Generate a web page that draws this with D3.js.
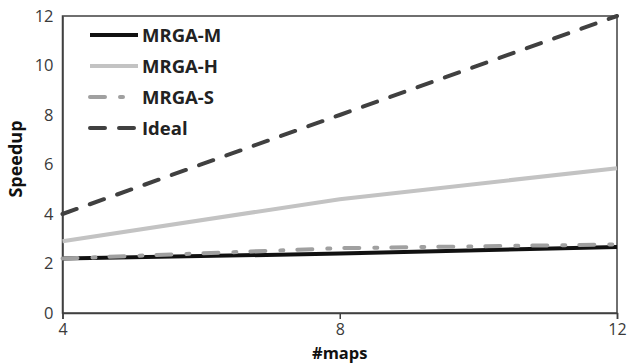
<!DOCTYPE html>
<html lang="en">
<head>
<meta charset="UTF-8" />
<script src="https://cdn.jsdelivr.net/npm/d3@7"></script>
<style>
  body { margin: 0; background: #fff; }
  text { font-family: "Open Sans", sans-serif; }
</style>
</head>
<body>
<div id="chart"></div>
<script>
// data
const maps = [4, 8, 12];
const mrgaM = [2.2, 2.4, 2.67];
const mrgaH = [2.9, 4.6, 5.85];
const mrgaS = [2.2, 2.62, 2.77];
const ideal = [4, 8, 12];
const xTicks = [4, 8, 12];
const yTicks = [0, 2, 4, 6, 8, 10, 12];

const series = [
  { name: "MRGA-M", values: mrgaM, color: "#111", dash: null, legLen: 48 },
  { name: "MRGA-H", values: mrgaH, color: "#c3c3c3", dash: null, legLen: 48 },
  { name: "MRGA-S", values: mrgaS, color: "#a0a0a0", dash: "15,15,3,14", legLen: 34 },
  { name: "Ideal", values: ideal, color: "#404040", dash: "15,14", legLen: 48 }
];

const W = 627, H = 363;
const m = { left: 62.5, right: 10, top: 16, bottom: 50 };

const svg = d3.select("#chart").append("svg")
  .attr("width", W).attr("height", H);

const x = d3.scaleLinear().domain([4, 12]).range([m.left, W - m.right]);
const y = d3.scaleLinear().domain([0, 12]).range([H - m.bottom, m.top]);

// frame
svg.append("rect")
  .attr("x", x(4)).attr("y", y(12))
  .attr("width", x(12) - x(4)).attr("height", y(0) - y(12))
  .attr("fill", "none").attr("stroke", "#404040").attr("stroke-width", 1.5);

// x axis
const xAxis = svg.append("g")
  .attr("transform", `translate(0,${y(0)})`)
  .call(d3.axisBottom(x).tickValues(xTicks).tickSize(6).tickPadding(5).tickFormat(d3.format("d")));
xAxis.select(".domain").attr("stroke", "#404040").attr("stroke-width", 1.5);
xAxis.selectAll("line").attr("stroke", "#404040").attr("stroke-width", 1.5);
xAxis.selectAll("text").attr("font-size", 16).attr("fill", "#3a3a3a").attr("font-family", "Open Sans");

// y axis
const yAxis = svg.append("g")
  .attr("transform", `translate(${x(4)},0)`)
  .call(d3.axisLeft(y).tickValues(yTicks).tickSize(0).tickPadding(9));
yAxis.select(".domain").attr("stroke", "#404040").attr("stroke-width", 1.5);
yAxis.selectAll("text").attr("font-size", 16.5).attr("fill", "#3a3a3a").attr("font-family", "Open Sans");

// lines
const line = d3.line()
  .x((d, i) => x(maps[i]))
  .y(d => y(d));

series.forEach(s => {
  svg.append("path")
    .datum(s.values)
    .attr("d", line)
    .attr("fill", "none")
    .attr("stroke", s.color)
    .attr("stroke-width", 4)
    .attr("stroke-dasharray", s.dash)
    .attr("stroke-linecap", s.dash ? "round" : "butt");
});

// legend
const leg = svg.append("g").attr("transform", "translate(90,35)");
series.forEach((s, i) => {
  const g = leg.append("g").attr("transform", `translate(0,${i * 31})`);
  g.append("line")
    .attr("x1", 0).attr("x2", s.legLen).attr("y1", 0).attr("y2", 0)
    .attr("stroke", s.color).attr("stroke-width", 4)
    .attr("stroke-dasharray", s.dash)
    .attr("stroke-linecap", s.dash ? "round" : "butt");
  g.append("text")
    .attr("x", 52).attr("y", 0).attr("dy", "0.36em")
    .attr("font-size", 18.5).attr("font-weight", "bold").attr("fill", "#222")
    .text(s.name);
});

// axis titles
svg.append("text")
  .attr("x", x(8)).attr("y", 359)
  .attr("text-anchor", "middle")
  .attr("font-size", 16.5).attr("font-weight", "bold").attr("fill", "#111")
  .text("#maps");

svg.append("text")
  .attr("transform", `translate(22,159) rotate(-90)`)
  .attr("text-anchor", "middle")
  .attr("font-size", 18).attr("font-weight", "bold").attr("fill", "#111")
  .text("Speedup");
</script>
</body>
</html>
